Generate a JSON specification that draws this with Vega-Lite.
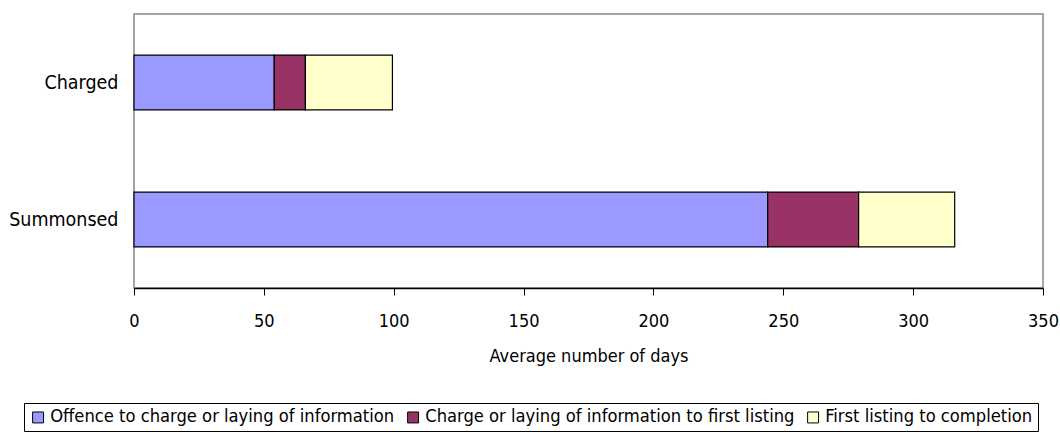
{
  "$schema": "https://vega.github.io/schema/vega-lite/v6.json",
  "autosize": "none",
  "width": 909,
  "height": 274,
  "padding": {"left": 134, "top": 14, "right": 17, "bottom": 145},
  "background": "white",
  "config": {
    "view": {"stroke": "#888888", "strokeWidth": 1.5},
    "font": "DejaVu Sans Condensed, Liberation Sans, sans-serif"
  },
  "data": {
    "values": [
      {"group": "Charged", "stage": "Offence to charge or laying of information", "o": 1, "days": 54},
      {"group": "Charged", "stage": "Charge or laying of information to first listing", "o": 2, "days": 12},
      {"group": "Charged", "stage": "First listing to completion", "o": 3, "days": 33.5},
      {"group": "Summonsed", "stage": "Offence to charge or laying of information", "o": 1, "days": 244},
      {"group": "Summonsed", "stage": "Charge or laying of information to first listing", "o": 2, "days": 35},
      {"group": "Summonsed", "stage": "First listing to completion", "o": 3, "days": 37}
    ]
  },
  "mark": {"type": "bar", "stroke": "black", "strokeWidth": 1.2},
  "encoding": {
    "y": {
      "field": "group", "type": "nominal", "sort": ["Charged", "Summonsed"],
      "scale": {"paddingInner": 0.6, "paddingOuter": 0.3},
      "axis": {"title": null, "ticks": false, "domain": false, "labelFontSize": 19.5, "labelColor": "black", "labelPadding": 16, "labelFont": "DejaVu Sans Condensed, Liberation Sans, sans-serif"}
    },
    "x": {
      "field": "days", "type": "quantitative", "stack": "zero",
      "scale": {"domain": [0, 350], "nice": false},
      "axis": {"title": "Average number of days", "values": [0, 50, 100, 150, 200, 250, 300, 350], "grid": false, "labelFlush": false, "domainColor": "black", "domainWidth": 1.5, "tickColor": "black", "tickSize": 7, "labelFontSize": 18, "labelColor": "black", "labelPadding": 17, "titleFontSize": 18, "titleFontWeight": "normal", "titleColor": "black", "titlePadding": 17, "labelFont": "DejaVu Sans Condensed, Liberation Sans, sans-serif", "titleFont": "DejaVu Sans Condensed, Liberation Sans, sans-serif"}
    },
    "color": {
      "field": "stage", "type": "nominal",
      "sort": ["Offence to charge or laying of information", "Charge or laying of information to first listing", "First listing to completion"],
      "scale": {"domain": ["Offence to charge or laying of information", "Charge or laying of information to first listing", "First listing to completion"], "range": ["#9999FF", "#993366", "#FFFFCC"]},
      "legend": {
        "title": null, "orient": "none", "direction": "horizontal", "legendX": -110, "legendY": 389,
        "symbolType": "square", "symbolSize": 120, "symbolStrokeColor": "black", "symbolStrokeWidth": 1,
        "labelFontSize": 18.2, "labelColor": "black", "labelFont": "DejaVu Sans Condensed, Liberation Sans, sans-serif",
        "strokeColor": "black", "padding": 5, "columnPadding": 9, "labelOffset": 3, "labelLimit": 500
      }
    },
    "order": {"field": "o", "type": "quantitative"}
  }
}
